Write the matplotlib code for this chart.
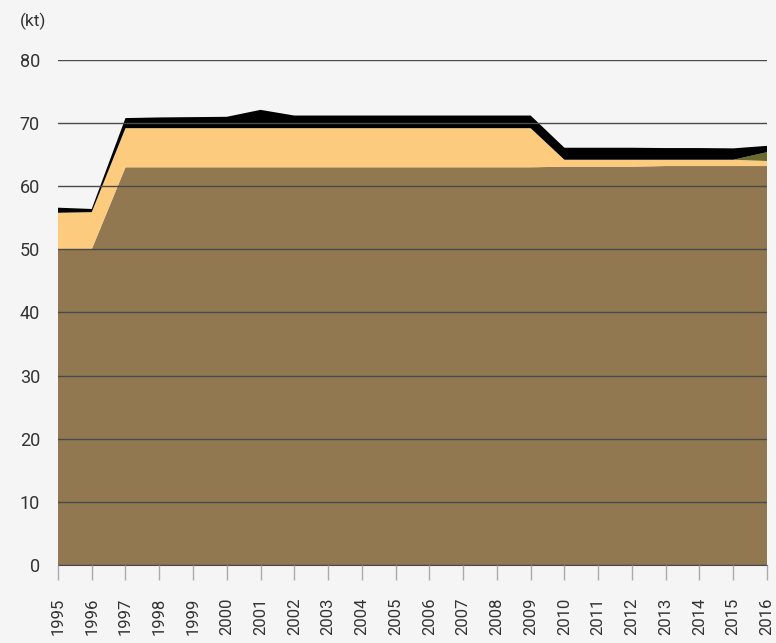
import numpy as np
import matplotlib
matplotlib.use("Agg")
import matplotlib.pyplot as plt

plt.rcParams["font.family"] = ["Roboto", "DejaVu Sans"]

years = list(range(1995, 2017))
# layer thicknesses (kt), bottom to top
base = [50.0, 50.0, 63.0, 63.0, 63.0, 63.0, 63.0, 63.0, 63.0, 63.0, 63.0,
        63.0, 63.0, 63.0, 63.0, 63.1, 63.1, 63.1, 63.2, 63.2, 63.2, 63.2]
light = [5.8, 5.9, 6.2, 6.2, 6.2, 6.2, 6.2, 6.2, 6.2, 6.2, 6.2,
         6.2, 6.2, 6.2, 6.2, 1.1, 1.1, 1.1, 1.0, 1.0, 1.0, 0.8]
green = [0, 0, 0, 0, 0, 0, 0, 0, 0, 0, 0,
         0, 0, 0, 0, 0, 0, 0, 0, 0, 0, 1.4]
black = [0.8, 0.5, 1.6, 1.7, 1.75, 1.8, 2.9, 2.0, 2.0, 2.0, 2.0,
         2.0, 2.0, 2.0, 2.0, 1.9, 1.9, 1.9, 1.85, 1.85, 1.8, 1.0]

colors = ["#917850", "#fdcb7e", "#6b6b30", "#000000"]

fig = plt.figure(figsize=(7.76, 6.43), dpi=100, facecolor="#f5f5f5")
ax = fig.add_axes([0.0747, 0.1213, 0.9137, 0.7854])
ax.set_facecolor("#f5f5f5")

ax.stackplot(years, base, light, green, black, colors=colors, linewidth=0, zorder=1)

ax.set_xlim(1995, 2016)
ax.set_ylim(0, 80)
ax.set_yticks(range(0, 90, 10))
ax.set_xticks(years)
ax.set_xticklabels([str(y) for y in years], rotation=90, fontsize=12, color="#333333")
ax.tick_params(axis="y", length=0, pad=13, labelsize=13, labelcolor="#333333")
ax.tick_params(axis="x", length=10.5, width=1, color="#aaaaaa", pad=13)
ax.yaxis.grid(True, color="#4a4a4a", linewidth=1, zorder=3)
ax.set_axisbelow(False)
for s in ["top", "right", "left"]:
    ax.spines[s].set_visible(False)
ax.spines["bottom"].set_color("#4a4a4a")

fig.text(0.026, 0.967, "(kt)", fontsize=12.5, color="#333333", va="center")

fig.savefig("out.png", dpi=100, facecolor=fig.get_facecolor())
